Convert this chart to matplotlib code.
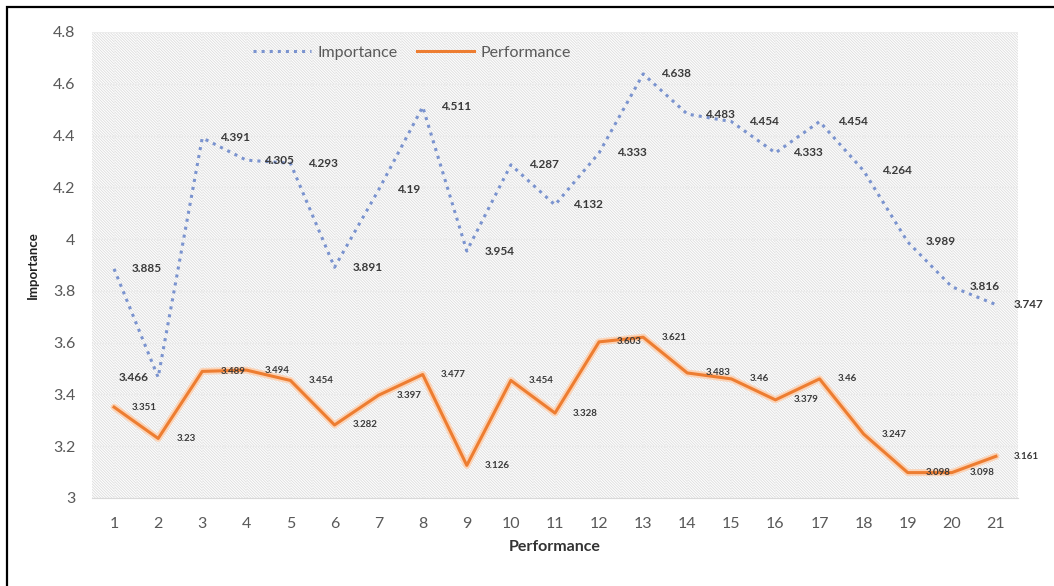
import matplotlib
matplotlib.use('Agg')
import matplotlib.pyplot as plt
from matplotlib.patches import Rectangle

items = list(range(1, 22))
importance = [3.885, 3.466, 4.391, 4.305, 4.293, 3.891, 4.19, 4.511, 3.954, 4.287, 4.132,
              4.333, 4.638, 4.483, 4.454, 4.333, 4.454, 4.264, 3.989, 3.816, 3.747]
performance = [3.351, 3.23, 3.489, 3.494, 3.454, 3.282, 3.397, 3.477, 3.126, 3.454, 3.328,
               3.603, 3.621, 3.483, 3.46, 3.379, 3.46, 3.247, 3.098, 3.098, 3.161]
y_ticks = [3, 3.2, 3.4, 3.6, 3.8, 4, 4.2, 4.4, 4.6, 4.8]

plt.rcParams['font.family'] = ['Lato', 'DejaVu Sans']
plt.rcParams['hatch.color'] = '#dcdcdc'
plt.rcParams['hatch.linewidth'] = 0.6


def main():
    fig = plt.figure(figsize=(10.54, 5.86), dpi=100)
    ax = fig.add_axes([0.0873, 0.1502, 0.8785, 0.7952])

    ax.patch.set_facecolor('white')
    ax.patch.set_hatch('\\\\\\\\\\\\\\\\\\\\\\\\')
    ax.patch.set_edgecolor('#dcdcdc')

    ax.plot(items, importance, linestyle=':', color='#7a93cf', linewidth=2.2, label='Importance')
    ax.plot(items, performance, color='#fbd3b6', linewidth=5, solid_capstyle='round')
    ax.plot(items, performance, color='#ed7d31', linewidth=2.2, label='Performance')

    for i, v in zip(items, importance):
        if i == 2:
            ax.annotate(str(v), (i, v), xytext=(-7, 0), textcoords='offset points',
                        ha='right', va='center', fontsize=8.5, fontweight='bold', color='#3a3a3a')
        else:
            ax.annotate(str(v), (i, v), xytext=(13, 0), textcoords='offset points',
                        ha='left', va='center', fontsize=8.5, fontweight='bold', color='#3a3a3a')
    for i, v in zip(items, performance):
        ax.annotate(str(v), (i, v), xytext=(13, 0), textcoords='offset points',
                    ha='left', va='center', fontsize=7, fontweight='bold', color='#3a3a3a')

    ax.set_xlim(0.5, 21.5)
    ax.set_ylim(3, 4.8)
    ax.set_xticks(items)
    ax.set_yticks(y_ticks)
    ax.set_yticklabels([('%g' % t) for t in y_ticks])
    ax.tick_params(length=0, labelsize=11.5, labelcolor='#595959')
    ax.tick_params(axis='x', pad=14)
    ax.tick_params(axis='y', pad=12)
    ax.set_xticks([x + 0.5 for x in items[:-1]], minor=True)
    ax.grid(True, axis='y', color='#ececec', linewidth=0.8)
    ax.grid(True, axis='x', which='both', color='#efefef', linewidth=0.8)
    ax.tick_params(which='minor', length=0)
    ax.set_axisbelow(True)

    for s in ['top', 'right', 'left']:
        ax.spines[s].set_visible(False)
    ax.spines['bottom'].set_color('#d9d9d9')

    ax.set_xlabel('Performance', fontsize=11.5, fontweight='bold', color='#333333', labelpad=6)
    ax.set_ylabel('Importance', fontsize=9.5, fontweight='bold', color='#222222', labelpad=10)

    fig.legend(loc='center', bbox_to_anchor=(0.391, 0.91), ncol=2, frameon=False,
               fontsize=11.5, handlelength=3.6, columnspacing=1.2, handletextpad=0.4,
               labelcolor='#595959')

    fig.patches.append(Rectangle((7 / 1054, -0.1), 1.2, 1.1 - 7 / 586, transform=fig.transFigure,
                                 fill=False, edgecolor='black', linewidth=1.6))

    fig.savefig('out.png', dpi=100)


if __name__ == '__main__':
    main()
